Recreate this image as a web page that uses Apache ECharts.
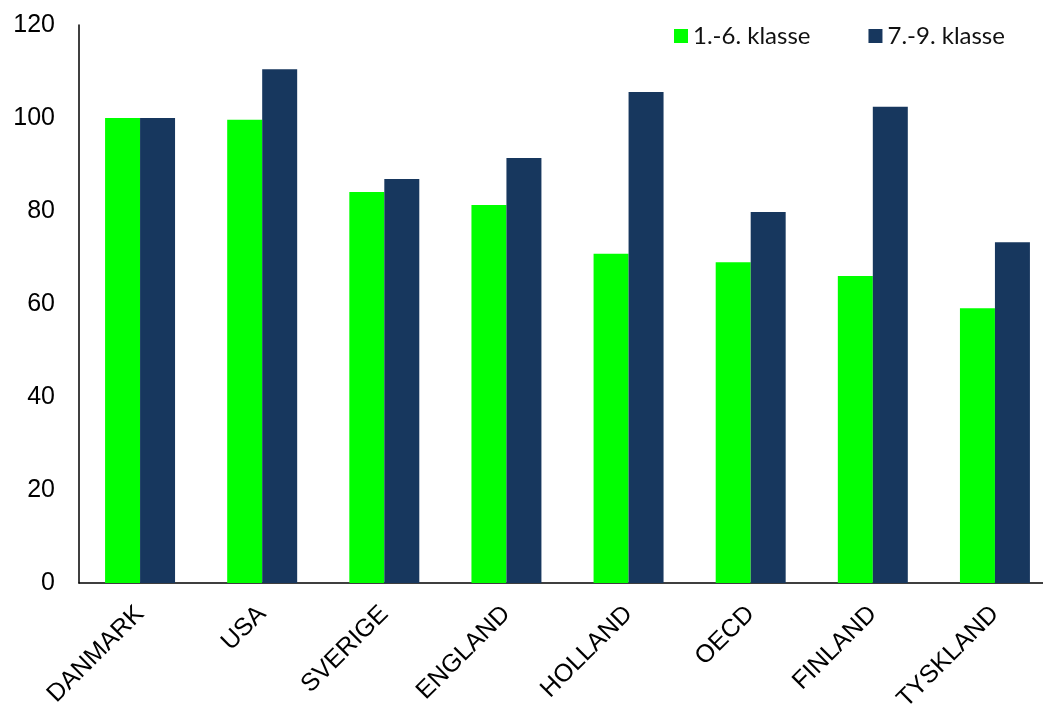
<!DOCTYPE html>
<html>
<head>
<meta charset="utf-8">
<script src="https://cdn.jsdelivr.net/npm/echarts@6/dist/echarts.min.js"></script>
<style>
html, body { margin: 0; padding: 0; background: #fff; overflow: hidden; width: 1043px; height: 709px; }
/* the plot runs slightly past the right edge of the page */
#chart { width: 1056px; height: 709px; }
</style>
</head>
<body>
<div id="chart"></div>
<script>
const categories = ['DANMARK', 'USA', 'SVERIGE', 'ENGLAND', 'HOLLAND', 'OECD', 'FINLAND', 'TYSKLAND'];
const seriesNames = ['1.-6. klasse', '7.-9. klasse'];
const grade1to6 = [100, 99.6, 84.1, 81.3, 70.8, 69.0, 66.0, 59.1];
const grade7to9 = [100, 110.5, 86.9, 91.4, 105.6, 79.8, 102.4, 73.3];
const yTicks = [0, 20, 40, 60, 80, 100, 120];

const chart = echarts.init(document.getElementById('chart'), null, { renderer: 'canvas' });
chart.setOption({
  animation: false,
  backgroundColor: '#ffffff',
  grid: { left: 79, right: 0, top: 25, bottom: 126, containLabel: false, outerBoundsMode: 'none' },
  legend: {
    data: seriesNames,
    left: 669,
    top: 19,
    itemWidth: 14,
    itemHeight: 14,
    itemGap: 58,
    icon: 'rect',
    textStyle: { fontFamily: 'Lato, "Open Sans", sans-serif', fontSize: 24, color: '#111' }
  },
  xAxis: {
    type: 'category',
    data: categories,
    axisLine: { lineStyle: { color: '#000', width: 1.5 } },
    axisTick: { show: false },
    axisLabel: {
      rotate: 45,
      margin: 27,
      fontFamily: '"Liberation Sans", Arial, sans-serif',
      fontSize: 25,
      color: '#000',
      interval: 0
    }
  },
  yAxis: {
    type: 'value',
    min: yTicks[0],
    max: yTicks[yTicks.length - 1],
    interval: 20,
    axisLine: { show: true, lineStyle: { color: '#000', width: 1.5 } },
    axisTick: { show: false },
    splitLine: { show: false },
    axisLabel: {
      margin: 24,
      fontFamily: '"Liberation Sans", Arial, sans-serif',
      fontSize: 25,
      color: '#000'
    }
  },
  series: [
    {
      name: seriesNames[0],
      type: 'bar',
      data: grade1to6,
      barGap: '0%',
      barCategoryGap: '42.7%',
      itemStyle: { color: '#00FF00' }
    },
    {
      name: seriesNames[1],
      type: 'bar',
      data: grade7to9,
      barGap: '0%',
      barCategoryGap: '42.7%',
      itemStyle: { color: '#17375E' }
    }
  ]
});
</script>
</body>
</html>
